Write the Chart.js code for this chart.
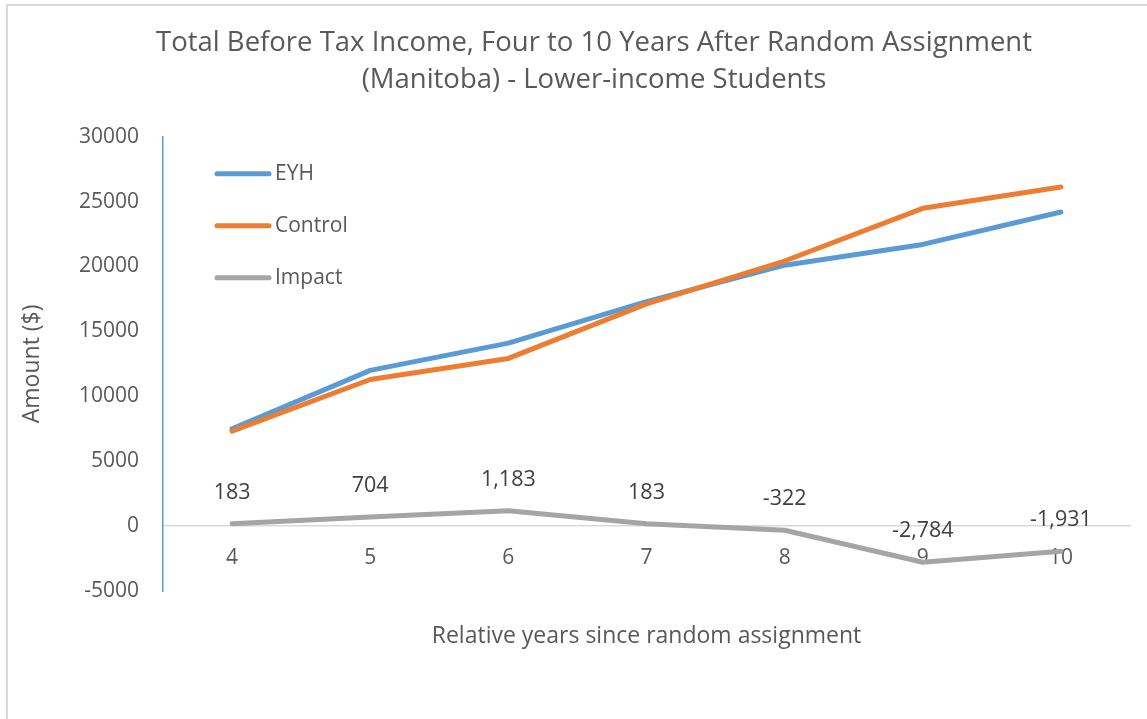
<!DOCTYPE html>
<html>
<head>
<meta charset="utf-8">
<script src="https://cdn.jsdelivr.net/npm/chart.js@4/dist/chart.umd.min.js"></script>
<style>
  html, body { margin: 0; padding: 0; background: #fff; overflow: hidden; }
  #frame { position: absolute; left: 6px; top: 4px; width: 1300px; height: 800px;
           border-left: 2px solid #d9d9d9; border-top: 2px solid #d9d9d9; }
  #wrap { position: absolute; left: 0; top: 0; width: 1188px; height: 719px; }
</style>
</head>
<body>
<div id="frame"></div>
<div id="wrap"><canvas id="incomeChart"></canvas></div>
<script>
const years = ['4', '5', '6', '7', '8', '9', '10'];
const eyhValues = [7500, 12000, 14100, 17300, 20100, 21700, 24200];
const controlValues = [7317, 11296, 12917, 17117, 20422, 24484, 26131];
const impactValues = [183, 704, 1183, 183, -322, -2784, -1931];
const yTicks = { min: -5000, max: 30000, step: 5000 };

const TEXT = '#595959';
const FONT = "'Open Sans', sans-serif";

// legend drawn inside the plot, like the Excel original
const insideLegend = {
    id: 'insideLegend',
    afterDatasetsDraw(chart) {
        const { ctx, chartArea } = chart;
        const x0 = chartArea.left + 54;
        let y = chartArea.top + 37;
        ctx.save();
        ctx.font = '21px ' + FONT;
        ctx.textBaseline = 'middle';
        chart.data.datasets.forEach(ds => {
            ctx.strokeStyle = ds.borderColor;
            ctx.lineWidth = 5;
            ctx.lineCap = 'round';
            ctx.beginPath();
            ctx.moveTo(x0, y);
            ctx.lineTo(x0 + 52, y);
            ctx.stroke();
            ctx.fillStyle = TEXT;
            ctx.fillText(ds.label, x0 + 58, y);
            y += 52;
        });
        ctx.restore();
    }
};

// value labels above the Impact line
const impactLabels = {
    id: 'impactLabels',
    afterDatasetsDraw(chart) {
        const { ctx } = chart;
        const meta = chart.getDatasetMeta(2);
        ctx.save();
        ctx.font = '21.5px ' + FONT;
        ctx.fillStyle = '#404040';
        ctx.textAlign = 'center';
        ctx.textBaseline = 'middle';
        meta.data.forEach((pt, i) => {
            ctx.fillText(impactValues[i].toLocaleString('en-US'), pt.x, pt.y - 31);
        });
        ctx.restore();
    }
};

const lineStyle = {
    borderWidth: 5,
    pointRadius: 0,
    tension: 0,
    fill: false,
    borderCapStyle: 'round',
    borderJoinStyle: 'round'
};

new Chart(document.getElementById('incomeChart'), {
    type: 'line',
    data: {
        labels: years,
        datasets: [
            Object.assign({ label: 'EYH', data: eyhValues, borderColor: '#5b9bd5', order: 3 }, lineStyle),
            Object.assign({ label: 'Control', data: controlValues, borderColor: '#ed7d31', order: 2 }, lineStyle),
            Object.assign({ label: 'Impact', data: impactValues, borderColor: '#a5a5a5', order: 1 }, lineStyle)
        ]
    },
    plugins: [insideLegend, impactLabels],
    options: {
        responsive: true,
        maintainAspectRatio: false,
        animation: false,
        layout: { padding: 0 },
        plugins: {
            legend: { display: false },
            tooltip: { enabled: false },
            title: {
                display: true,
                text: ['Total Before Tax Income, Four to 10 Years After Random Assignment',
                       '(Manitoba) - Lower-income Students'],
                color: TEXT,
                font: { family: FONT, size: 27.5, weight: 'normal', lineHeight: 1.34 },
                padding: { top: 25, bottom: 38 }
            }
        },
        scales: {
            x: {
                type: 'category',
                position: { y: 0 },
                offset: true,
                grid: { display: false, drawTicks: false },
                border: { display: true, color: '#d9d9d9', width: 1.5 },
                ticks: { color: TEXT, padding: 19, font: { family: FONT, size: 21 } }
            },
            x2: {
                type: 'category',
                axis: 'x',
                position: 'bottom',
                labels: years,
                grid: { display: false, drawTicks: false },
                border: { display: false },
                ticks: { display: false },
                title: {
                    display: true,
                    text: 'Relative years since random assignment',
                    color: TEXT,
                    font: { family: FONT, size: 23 },
                    padding: { top: 0, bottom: 69 }
                },
                afterFit(scale) { scale.height = 128; }
            },
            y: {
                min: yTicks.min,
                max: yTicks.max,
                grid: { display: false, drawTicks: false },
                border: { display: true, color: '#5b9bd5', width: 1.5 },
                ticks: {
                    stepSize: yTicks.step,
                    color: TEXT,
                    padding: 24,
                    font: { family: FONT, size: 21 },
                    callback: v => String(v)
                },
                title: {
                    display: true,
                    text: 'Amount ($)',
                    color: TEXT,
                    font: { family: FONT, size: 23 },
                    padding: { top: 19, bottom: 0 }
                },
                afterFit(scale) { scale.width = 163; }
            },
            // empty right-hand box so the plot ends where the original does
            y2: {
                type: 'linear',
                axis: 'y',
                position: 'right',
                min: yTicks.min,
                max: yTicks.max,
                grid: { display: false, drawTicks: false },
                border: { display: false },
                ticks: { display: false },
                afterFit(scale) { scale.width = 58; }
            }
        }
    }
});
</script>
</body>
</html>
